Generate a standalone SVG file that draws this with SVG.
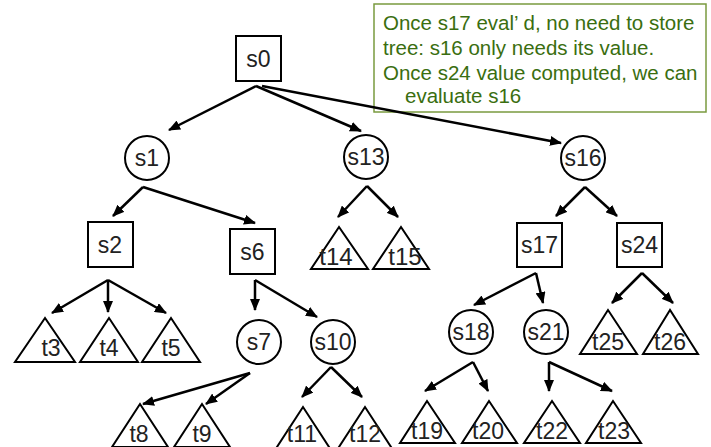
<svg xmlns="http://www.w3.org/2000/svg" width="711" height="447" viewBox="0 0 711 447">
<defs>
<marker id="ah" markerUnits="userSpaceOnUse" markerWidth="12" markerHeight="10" refX="11" refY="5" orient="auto">
<path d="M0,0 L12,5 L0,10 z" fill="#000"/>
</marker>
<style>
.n{fill:#fff;stroke:#000;stroke-width:2}
.t{fill:none;stroke:#000;stroke-width:2}
.l{font-family:"Liberation Sans",Arial,sans-serif;font-size:23px;fill:#222;text-anchor:middle}
.big{font-size:24px}
.e{stroke:#000;stroke-width:2.5;fill:none;marker-end:url(#ah)}
.note{font-family:"Liberation Sans",Arial,sans-serif;font-size:20.5px;fill:#3a6e10}
</style>
</defs>
<rect width="711" height="447" fill="#fff"/>
<g id="note">
<rect x="374" y="4" width="332" height="108" fill="none" stroke="#7a9a3f" stroke-width="1.5"/>
<text class="note" x="383" y="30">Once s17 eval’ d, no need to store</text>
<text class="note" x="383" y="55">tree: s16 only needs its value.</text>
<text class="note" x="383" y="80">Once s24 value computed, we can</text>
<text class="note" x="405" y="103">evaluate s16</text>
</g>
<g id="connectors">
<line class="e" x1="256" y1="86" x2="169" y2="130"/>
<line class="e" x1="256" y1="86" x2="361" y2="131"/>
<line class="e" x1="262" y1="86" x2="561" y2="143"/>
<line class="e" x1="143" y1="187" x2="113" y2="216"/>
<line class="e" x1="143" y1="187" x2="255" y2="223"/>
<line class="e" x1="108" y1="280" x2="52" y2="313"/>
<line class="e" x1="108" y1="280" x2="108" y2="312"/>
<line class="e" x1="108" y1="280" x2="166" y2="313"/>
<line class="e" x1="255" y1="280" x2="255" y2="310"/>
<line class="e" x1="255" y1="280" x2="317" y2="317"/>
<line class="e" x1="250" y1="373" x2="143" y2="404"/>
<line class="e" x1="250" y1="373" x2="206" y2="404"/>
<line class="e" x1="331" y1="367" x2="302" y2="397"/>
<line class="e" x1="331" y1="367" x2="362" y2="397"/>
<line class="e" x1="367" y1="186" x2="338" y2="217"/>
<line class="e" x1="367" y1="186" x2="398" y2="217"/>
<line class="e" x1="585" y1="187" x2="556" y2="216"/>
<line class="e" x1="585" y1="187" x2="617" y2="216"/>
<line class="e" x1="536" y1="273" x2="474" y2="305"/>
<line class="e" x1="536" y1="273" x2="543" y2="303"/>
<line class="e" x1="642" y1="273" x2="612" y2="303"/>
<line class="e" x1="642" y1="273" x2="673" y2="303"/>
<line class="e" x1="473" y1="362" x2="425" y2="391"/>
<line class="e" x1="473" y1="362" x2="488" y2="391"/>
<line class="e" x1="549" y1="362" x2="549" y2="391"/>
<line class="e" x1="549" y1="362" x2="612" y2="391"/>
</g>
<g id="s0"><rect class="n" x="236" y="36" width="45" height="45"/><text class="l" x="258.5" y="67">s0</text></g>
<g id="s1"><circle class="n" cx="147" cy="158" r="22"/><text class="l" x="147" y="166">s1</text></g>
<g id="s13"><circle class="n" cx="366" cy="157" r="22"/><text class="l" x="366" y="165">s13</text></g>
<g id="s16"><circle class="n" cx="583" cy="158" r="22"/><text class="l" x="583" y="166">s16</text></g>
<g id="s2"><rect class="n" x="88" y="222" width="45" height="45"/><text class="l" x="110" y="253">s2</text></g>
<g id="s6"><rect class="n" x="230" y="229" width="45" height="45"/><text class="l" x="252.5" y="260">s6</text></g>
<g id="s17"><rect class="n" x="517" y="223" width="45" height="44"/><text class="l" x="539.5" y="253">s17</text></g>
<g id="s24"><rect class="n" x="617" y="223" width="45" height="44"/><text class="l" x="639.5" y="253">s24</text></g>
<g id="s7"><circle class="n" cx="259" cy="342" r="22"/><text class="l" x="259" y="350">s7</text></g>
<g id="s10"><circle class="n" cx="333" cy="342" r="22"/><text class="l" x="333" y="350">s10</text></g>
<g id="s18"><circle class="n" cx="471" cy="332" r="22"/><text class="l" x="471" y="340">s18</text></g>
<g id="s21"><circle class="n" cx="546" cy="332" r="22"/><text class="l" x="546" y="340">s21</text></g>
<g id="t3"><polygon class="t" points="45,318 15,362 75,362"/><text class="l" x="51" y="356">t3</text></g>
<g id="t4"><polygon class="t" points="109,318 80,362 138,362"/><text class="l" x="109" y="356">t4</text></g>
<g id="t5"><polygon class="t" points="171,318 142,362 200,362"/><text class="l" x="171" y="356">t5</text></g>
<g id="t14"><polygon class="t" points="339,227 311,269 368,269"/><text class="l big" x="336" y="265">t14</text></g>
<g id="t15"><polygon class="t" points="401,227 373,269 429,269"/><text class="l big" x="405" y="265">t15</text></g>
<g id="t25"><polygon class="t" points="608,310 580,354 637,354"/><text class="l" x="608" y="350">t25</text></g>
<g id="t26"><polygon class="t" points="670,310 643,354 698,354"/><text class="l" x="670" y="350">t26</text></g>
<g id="t8"><polygon class="t" points="140,404 112,447 168,447"/><text class="l" x="139" y="442">t8</text></g>
<g id="t9"><polygon class="t" points="202,404 174,447 230,447"/><text class="l" x="202" y="442">t9</text></g>
<g id="t11"><polygon class="t" points="303,407 275,450 331,450"/><text class="l" x="302" y="442">t11</text></g>
<g id="t12"><polygon class="t" points="365,407 337,450 393,450"/><text class="l" x="365" y="442">t12</text></g>
<g id="t19"><polygon class="t" points="427,401 400,443 455,443"/><text class="l" x="427" y="439">t19</text></g>
<g id="t20"><polygon class="t" points="489,401 462,443 517,443"/><text class="l" x="488" y="439">t20</text></g>
<g id="t22"><polygon class="t" points="552,401 524,443 580,443"/><text class="l" x="552" y="439">t22</text></g>
<g id="t23"><polygon class="t" points="613,401 586,443 641,443"/><text class="l" x="614" y="439">t23</text></g>
</svg>
